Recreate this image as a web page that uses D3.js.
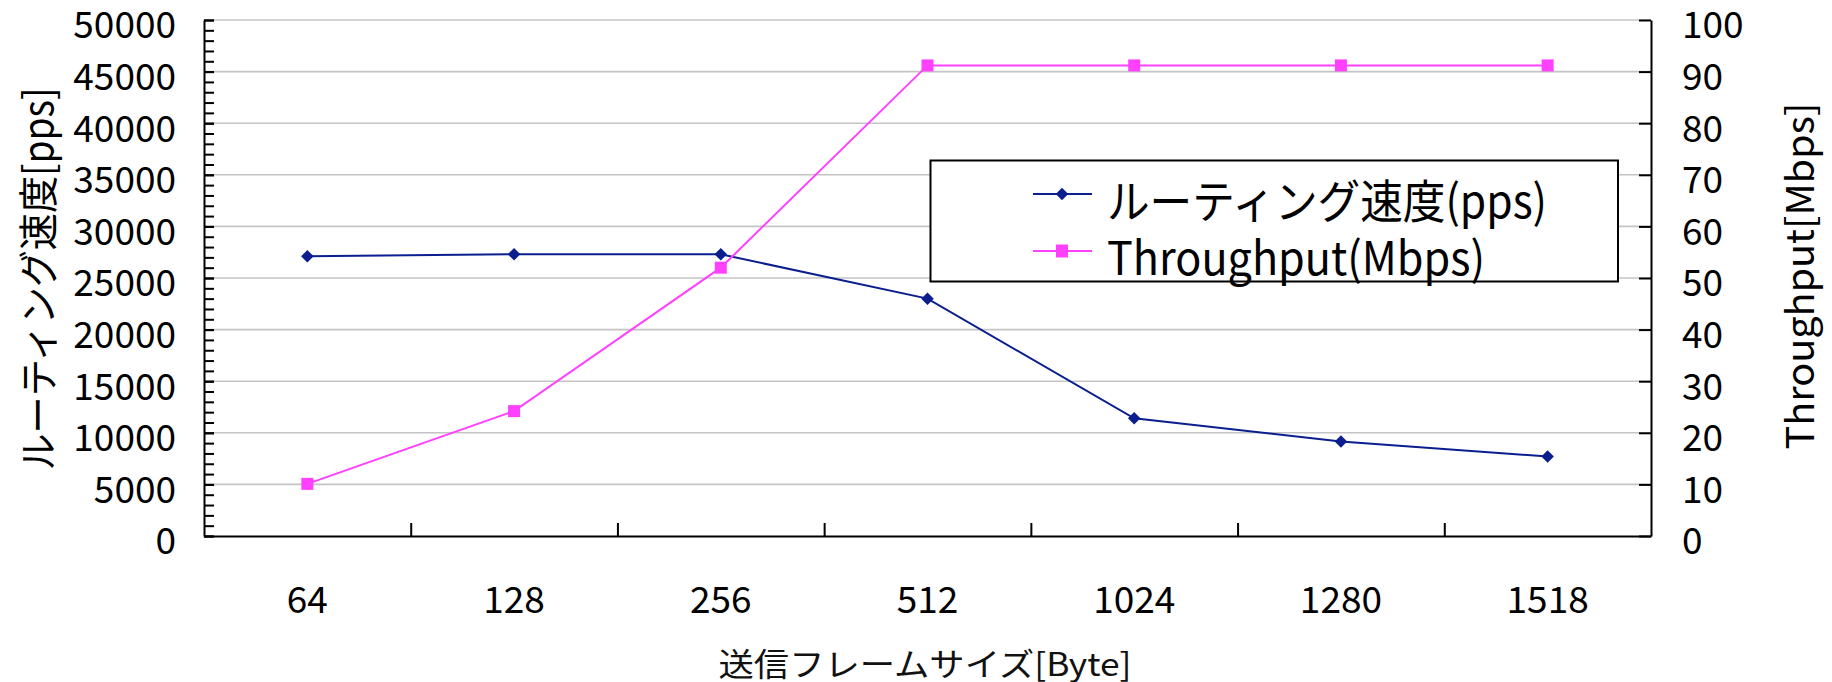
<!DOCTYPE html>
<html>
<head>
<meta charset="utf-8">
<script src="https://cdn.jsdelivr.net/npm/d3@7"></script>
<style>
  html, body { margin: 0; padding: 0; background: #fff; }
  svg { display: block; font-family: "Noto Sans CJK JP", "Noto Sans", sans-serif; }
</style>
</head>
<body>
<svg id="chart" width="1832" height="682"></svg>
<script>
// Frame sizes (bytes) on the category axis
const frameSizes = ["64", "128", "256", "512", "1024", "1280", "1518"];
// Routing speed in packets per second (left axis)
const routingPps = [27100, 27300, 27300, 23000, 11400, 9150, 7700];
// Throughput in Mbps (right axis)
const throughputMbps = [10.1, 24.2, 52.0, 91.2, 91.2, 91.2, 91.2];

const seriesNames = ["ルーティング速度(pps)", "Throughput(Mbps)"];
const leftTitle = "ルーティング速度[pps]";
const rightTitle = "Throughput[Mbps]";
const bottomTitle = "送信フレームサイズ[Byte]";

const plot = { left: 204, right: 1651, top: 20, bottom: 536 };
const blue = "#0b1e8f";
const pink = "#ff40ff";

const svg = d3.select("#chart");

const x = d3.scaleBand().domain(frameSizes).range([plot.left, plot.right]).padding(0);
const xEdge = d3.scaleLinear().domain([0, frameSizes.length]).range([plot.left, plot.right]);
const yL = d3.scaleLinear().domain([0, 50000]).range([plot.bottom, plot.top]);
const yR = d3.scaleLinear().domain([0, 100]).range([plot.bottom, plot.top]);
const cx = d => x(d) + x.bandwidth() / 2;

// horizontal gridlines at the major pps ticks
svg.append("g")
  .selectAll("line")
  .data(yL.ticks(10).filter(v => v > 0))
  .join("line")
  .attr("x1", plot.left).attr("x2", plot.right)
  .attr("y1", d => yL(d)).attr("y2", d => yL(d))
  .attr("stroke", "#c4c4c4").attr("stroke-width", 1.6);

function styleAxis(g) {
  g.selectAll("path.domain").attr("stroke", "#000").attr("stroke-width", 2);
  g.selectAll(".tick line").attr("stroke", "#000").attr("stroke-width", 2);
  g.selectAll("text").attr("fill", "#000").attr("font-family", "Noto Sans CJK JP");
}

// left axis: minor ticks every 1000
svg.append("g")
  .attr("transform", `translate(${plot.left},0)`)
  .call(d3.axisLeft(yL).tickValues(d3.range(0, 50001, 1000)).tickSize(-10).tickSizeOuter(0).tickFormat(""))
  .call(styleAxis)
  .call(g => g.select("path.domain").remove());

// left axis: labelled majors
svg.append("g")
  .attr("transform", `translate(${plot.left},0)`)
  .call(d3.axisLeft(yL).ticks(10).tickSize(-10).tickSizeOuter(0).tickPadding(28).tickFormat(d3.format("d")))
  .call(styleAxis)
  .call(g => g.selectAll("text").attr("font-size", 37).attr("y", 6));

// right axis
svg.append("g")
  .attr("transform", `translate(${plot.right},0)`)
  .call(d3.axisRight(yR).ticks(10).tickSize(-12).tickSizeOuter(0).tickPadding(31).tickFormat(d3.format("d")))
  .call(styleAxis)
  .call(g => g.selectAll("text").attr("font-size", 37).attr("y", 6));

// bottom axis: boundary ticks between categories
svg.append("g")
  .attr("transform", `translate(0,${plot.bottom})`)
  .call(d3.axisBottom(xEdge).tickValues(d3.range(1, frameSizes.length)).tickSize(-13).tickSizeOuter(0).tickFormat(""))
  .call(styleAxis);

// bottom axis: category labels
svg.append("g")
  .attr("transform", `translate(0,${plot.bottom})`)
  .call(d3.axisBottom(x).tickSize(0).tickPadding(0))
  .call(styleAxis)
  .call(g => g.select("path.domain").remove())
  .call(g => g.selectAll("text").attr("font-size", 37).attr("dy", 0).attr("y", 77));

// series lines and markers
const lineL = d3.line().x((d, i) => cx(frameSizes[i])).y(d => yL(d));
const lineR = d3.line().x((d, i) => cx(frameSizes[i])).y(d => yR(d));
const diamond = d3.symbol().type(d3.symbolDiamond2).size(100);

svg.append("path").datum(routingPps)
  .attr("d", lineL).attr("fill", "none").attr("stroke", blue).attr("stroke-width", 2);
svg.append("g").selectAll("path")
  .data(routingPps).join("path")
  .attr("d", diamond)
  .attr("transform", (d, i) => `translate(${cx(frameSizes[i])},${yL(d)})`)
  .attr("fill", blue);

svg.append("path").datum(throughputMbps)
  .attr("d", lineR).attr("fill", "none").attr("stroke", pink).attr("stroke-width", 2);
svg.append("g").selectAll("rect")
  .data(throughputMbps).join("rect")
  .attr("x", (d, i) => cx(frameSizes[i]) - 6)
  .attr("y", d => yR(d) - 6)
  .attr("width", 12).attr("height", 12)
  .attr("fill", pink);

// axis titles
svg.append("text")
  .attr("transform", "translate(36,279) rotate(-90)")
  .attr("text-anchor", "middle").attr("dominant-baseline", "central")
  .attr("font-size", 40).attr("textLength", 383).attr("lengthAdjust", "spacingAndGlyphs")
  .text(leftTitle);

svg.append("text")
  .attr("transform", "translate(1797,276) rotate(-90)")
  .attr("text-anchor", "middle").attr("dominant-baseline", "central")
  .attr("font-size", 38).attr("textLength", 347).attr("lengthAdjust", "spacingAndGlyphs")
  .text(rightTitle);

svg.append("text")
  .attr("x", 925).attr("y", 676)
  .attr("text-anchor", "middle")
  .attr("font-size", 32).attr("fill", "#111").attr("textLength", 413).attr("lengthAdjust", "spacingAndGlyphs")
  .text(bottomTitle);

// legend
const legend = svg.append("g");
legend.append("rect")
  .attr("x", 930.5).attr("y", 160.5).attr("width", 687.5).attr("height", 121)
  .attr("fill", "#fff").attr("stroke", "#000").attr("stroke-width", 2);

const legendRows = [
  { name: seriesNames[0], color: blue, shape: "diamond", y: 194, len: 440 },
  { name: seriesNames[1], color: pink, shape: "square", y: 251, len: 378 }
];
legendRows.forEach(r => {
  legend.append("line")
    .attr("x1", 1033).attr("x2", 1092).attr("y1", r.y).attr("y2", r.y)
    .attr("stroke", r.color).attr("stroke-width", 2);
  if (r.shape === "diamond") {
    legend.append("path").attr("d", diamond)
      .attr("transform", `translate(1062,${r.y})`).attr("fill", r.color);
  } else {
    legend.append("rect").attr("x", 1056).attr("y", r.y - 6.5)
      .attr("width", 12).attr("height", 13).attr("fill", r.color);
  }
  legend.append("text")
    .attr("x", 1107).attr("y", r.y + 24)
    .attr("font-size", 46).attr("fill", "#000")
    .attr("textLength", r.len).attr("lengthAdjust", "spacingAndGlyphs")
    .text(r.name);
});
</script>
</body>
</html>
